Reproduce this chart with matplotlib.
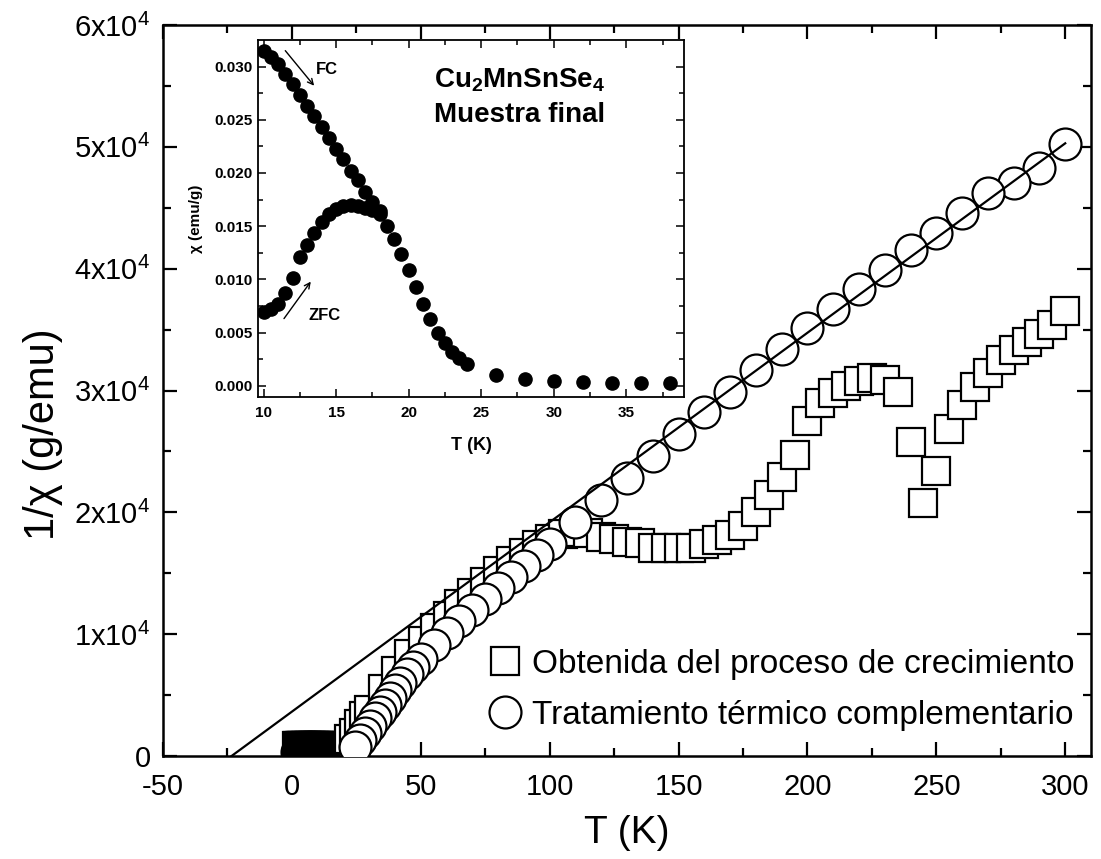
import numpy as np
import matplotlib
matplotlib.use("Agg")
import matplotlib.pyplot as plt
from matplotlib.lines import Line2D

plt.rcParams['font.family'] = ['Liberation Sans', 'DejaVu Sans']
plt.rcParams['mathtext.fontset'] = 'custom'
plt.rcParams['mathtext.rm'] = 'Liberation Sans'
plt.rcParams['mathtext.bf'] = 'Liberation Sans:bold'
plt.rcParams['axes.unicode_minus'] = False

# ---- main panel: inverse susceptibility ----
# sample as grown (squares)
T_grown = [2, 2.5, 3, 3.5, 4, 4.5, 5, 5.5, 6, 6.5, 7, 7.5, 8, 8.5, 9, 9.5, 10, 10.5,
           11, 11.5, 12, 12.5, 13,
           22.3, 24.2, 26.2, 28.1, 30, 35.2, 40.4, 45.6, 50.8, 55.6, 60.5,
           65, 70, 75, 80, 85, 90, 95, 100, 105, 110, 115,
           120, 125, 130, 135, 140, 145, 150, 155, 160, 165, 170, 175, 180, 185, 190,
           195, 200, 205, 210, 215, 220, 225, 230, 235, 240, 245, 250, 255, 260, 265,
           270, 275, 280, 285, 290, 295, 300]
inv_chi_grown = [800, 800, 800, 800, 800, 800, 800, 800, 800, 800, 800, 800, 800,
                 800, 800, 800, 800, 800, 800, 800, 800, 800, 800,
                 1400, 1900, 2600, 3300, 3800, 5500, 7000, 8400, 9400, 10500, 11500,
                 12500, 13400, 14300, 15200, 16000, 16700, 17300, 17800, 18200,
                 18400, 18300,
                 18000, 17800, 17600, 17500, 17100, 17100, 17100, 17100, 17400,
                 17700, 18100, 18900, 20000, 21400, 22900, 24700, 27500, 29000,
                 29800, 30400, 30800, 31000, 30900, 29900, 25800, 20800, 23400,
                 26800, 28800, 30300, 31400, 32500, 33300, 34000, 34600, 35400, 36500]

# sample after complementary annealing (circles)
T_annealed = [2, 2.5, 3, 3.5, 4, 4.5, 5, 5.5, 6, 6.5, 7, 7.5, 8, 8.5, 9, 9.5, 10,
              10.5, 11, 11.5, 12,
              24.5, 26.4, 28.4, 30.3, 32.3, 34.2, 36.1, 38.1, 40, 42, 44.5, 47, 50,
              55, 60, 65, 70, 75, 80, 85, 90, 95, 100, 110, 120, 130, 140, 150, 160,
              170, 180, 190, 200, 210, 220, 230, 240, 250, 260, 270, 280, 290, 300]
inv_chi_annealed = [300, 300, 300, 300, 300, 300, 300, 300, 300, 300, 300, 300,
                    300, 300, 300, 300, 300, 300, 300, 300, 300,
                    700, 1300, 1900, 2500, 3100, 3600, 4200, 4800, 5400, 6000, 6700,
                    7300, 8000, 9100, 10100, 11100, 12000, 12900, 13800, 14700, 15600,
                    16500, 17400, 19200, 21000, 22800, 24600, 26400, 28200, 29900,
                    31700, 33400, 35100, 36700, 38300, 39900, 41500, 42900, 44600,
                    46200, 47000, 48300, 50200]

# below this temperature the points pile up into a dense cluster
T_cluster = 14

# Curie-Weiss fit: 1/chi = (T - theta) / C
theta_fit = -23.4
C_fit = 1 / 155.5
T_fit_max = 300

x_ticks = [-50, 0, 50, 100, 150, 200, 250, 300]
y_ticks = [0, 10000, 20000, 30000, 40000, 50000, 60000]
y_tick_labels = ['0', r'$\mathregular{1x10^4}$', r'$\mathregular{2x10^4}$',
                 r'$\mathregular{3x10^4}$', r'$\mathregular{4x10^4}$',
                 r'$\mathregular{5x10^4}$', r'$\mathregular{6x10^4}$']

# ---- inset: susceptibility ZFC / FC ----
T_fc = [10, 10.5, 11, 11.5, 12, 12.5, 13, 13.5, 14, 14.5, 15, 15.5, 16, 16.5, 17,
        17.5, 18, 18.5, 19, 19.5, 20, 20.5, 21, 21.5, 22, 22.5, 23, 23.5, 24,
        26, 28, 30, 32, 34, 36, 38]
chi_fc = [0.0315, 0.0309, 0.0302, 0.0293, 0.0284, 0.0273, 0.0263, 0.0254, 0.0243,
          0.0233, 0.0223, 0.0213, 0.0202, 0.0193, 0.0182, 0.0173, 0.0164, 0.0150,
          0.0138, 0.0124, 0.0109, 0.0093, 0.0077, 0.0063, 0.0050, 0.0040, 0.0032,
          0.0026, 0.0020, 0.0010, 0.00063, 0.00047, 0.00038, 0.0003, 0.00028, 0.00025]
T_zfc = [10, 10.5, 11, 11.5, 12, 12.5, 13, 13.5, 14, 14.5, 15, 15.5, 16, 16.5, 17,
         17.5, 18]
chi_zfc = [0.0069, 0.0072, 0.0077, 0.0087, 0.0101, 0.0121, 0.0132, 0.0144, 0.0154,
           0.0161, 0.0166, 0.0169, 0.0170, 0.0169, 0.0167, 0.0165, 0.0161]

W, H = 1101, 859
fig = plt.figure(figsize=(W / 100, H / 100), dpi=100)
ax = fig.add_axes([163 / W, 1 - 756 / H, (1091 - 163) / W, (756 - 25) / H])

mk = dict(mfc='white', mec='black', mew=1.6, ls='none')
ms_sq, ms_ci = 20.5, 23

tg, vg = np.array(T_grown), np.array(inv_chi_grown)
ta, va = np.array(T_annealed), np.array(inv_chi_annealed)
low_g, low_a = tg < T_cluster, ta < T_cluster

# dense low-temperature cluster: outlines only, they merge into a solid block
ax.plot(ta[low_a], va[low_a], marker='o', ms=ms_ci, mfc='none', mec='black',
        mew=1.6, ls='none', zorder=2)
ax.plot(tg[low_g], vg[low_g], marker='s', ms=ms_sq, mfc='none', mec='black',
        mew=1.6, ls='none', zorder=2)
ax.plot(tg[~low_g], vg[~low_g], marker='s', ms=ms_sq, zorder=3, **mk)
ax.plot(ta[~low_a][::-1], va[~low_a][::-1], marker='o', ms=ms_ci, zorder=4, **mk)

T_line = np.array([theta_fit, T_fit_max])
ax.plot(T_line, (T_line - theta_fit) / C_fit, color='black', lw=1.6, zorder=5)

ax.set_xlim(-50, 310)
ax.set_ylim(0, 60000)
ax.set_xticks(x_ticks)
ax.set_xticks(np.arange(-25, 310, 50), minor=True)
ax.set_yticks(y_ticks)
ax.set_yticklabels(y_tick_labels)
ax.set_yticks(np.arange(5000, 60000, 10000), minor=True)
ax.tick_params(which='both', direction='in', top=True, right=True, width=1.6,
               labelsize=21)
ax.tick_params(axis='x', pad=12)
ax.tick_params(axis='y', pad=9)
ax.tick_params(which='major', length=10)
ax.tick_params(which='minor', length=5.5)
for s in ax.spines.values():
    s.set_linewidth(1.8)
ax.set_xlabel('T (K)', fontsize=28, labelpad=10)
ax.set_ylabel('1/χ (g/emu)', fontsize=30)
ax.yaxis.set_label_coords(-0.108, 0.44)

handles = [Line2D([], [], marker='s', ms=ms_sq, **mk),
           Line2D([], [], marker='o', ms=ms_ci, **mk)]
ax.legend(handles, ['Obtenida del proceso de crecimiento',
                    'Tratamiento térmico complementario'],
          loc='lower right', bbox_to_anchor=(1.0, 0.012), frameon=False,
          fontsize=24, handletextpad=0.3, labelspacing=0.6, borderaxespad=0.1,
          handlelength=1.0)

# ---- inset ----
axi = fig.add_axes([257.7 / W, 1 - 396.7 / H, (684.3 - 257.7) / W, (396.7 - 40) / H])
axi.plot(T_fc, chi_fc, 'o', color='black', ms=9.5, zorder=3)
axi.plot(T_zfc, chi_zfc, 'o', color='black', ms=9.5, zorder=3)
axi.set_xlim(9.6, 39.0)
axi.set_ylim(-0.00103, 0.0325)
axi.set_xticks([10, 15, 20, 25, 30, 35])
axi.set_xticks(np.arange(12.5, 39, 5), minor=True)
axi.set_yticks([0.0, 0.005, 0.010, 0.015, 0.020, 0.025, 0.030])
axi.set_yticklabels(['0.000', '0.005', '0.010', '0.015', '0.020', '0.025', '0.030'])
axi.set_yticks(np.arange(0.0025, 0.032, 0.005), minor=True)
axi.tick_params(which='both', direction='in', top=True, right=True, width=1.1,
                labelsize=11)
axi.tick_params(axis='x', pad=7)
axi.tick_params(axis='y', pad=4)
axi.tick_params(which='major', length=6)
axi.tick_params(which='minor', length=3.5)
for lab in axi.get_xticklabels() + axi.get_yticklabels():
    lab.set_fontweight('bold')
for s in axi.spines.values():
    s.set_linewidth(1.3)
axi.set_xlabel('T (K)', fontsize=13, fontweight='bold', labelpad=12)
axi.set_ylabel('χ (emu/g)', fontsize=11, fontweight='bold', labelpad=8)

arrow = dict(arrowstyle='->', color='black', lw=1.0, mutation_scale=10)
axi.annotate('', xy=(13.61, 0.0280), xytext=(11.38, 0.0317), arrowprops=arrow)
axi.text(13.63, 0.0297, 'FC', fontsize=12, fontweight='bold', va='center')
axi.annotate('', xy=(13.37, 0.0100), xytext=(11.30, 0.0061), arrowprops=arrow)
axi.text(13.08, 0.0066, 'ZFC', fontsize=12, fontweight='bold', va='center')

axi.text(0.615, 0.888, r'$\mathbf{Cu_2MnSnSe_4}$', transform=axi.transAxes,
         fontsize=20, ha='center', va='center')
axi.text(0.615, 0.79, 'Muestra final', transform=axi.transAxes, fontsize=20,
         fontweight='bold', ha='center', va='center')

fig.savefig('out.png', dpi=100)
